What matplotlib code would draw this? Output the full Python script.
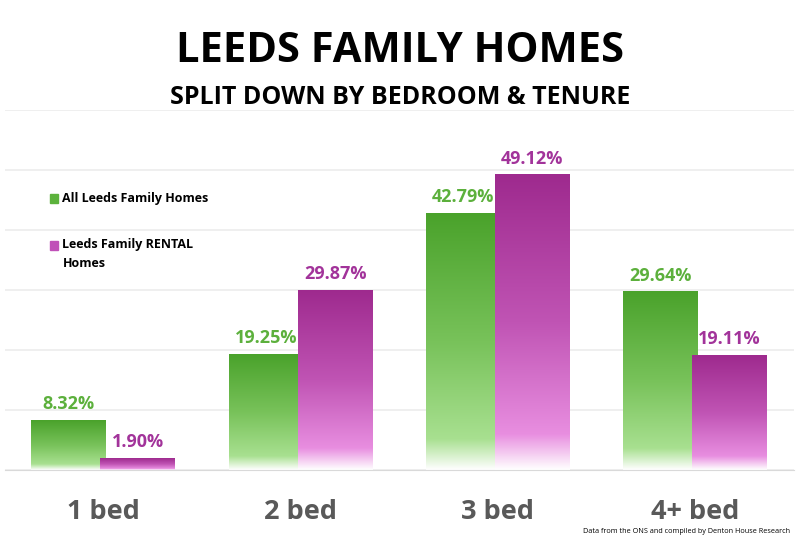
import numpy as np
import matplotlib.pyplot as plt
from matplotlib.colors import LinearSegmentedColormap

# Chart data.
categories = ['1 bed', '2 bed', '3 bed', '4+ bed']
all_homes = [8.32, 19.25, 42.79, 29.64]
rental_homes = [1.90, 29.87, 49.12, 19.11]
series_names = ['All Leeds Family Homes', 'Leeds Family RENTAL\nHomes']

green_dark = '#4aa22b'
pink_dark = '#9e2a8e'
green_cmap = LinearSegmentedColormap.from_list(
    'g', [(0, '#ffffff'), (0.12, '#a8e090'), (0.5, '#78c25a'), (1, green_dark)])
pink_cmap = LinearSegmentedColormap.from_list(
    'p', [(0, '#ffffff'), (0.12, '#e88ee0'), (0.5, '#c054b4'), (1, pink_dark)])

fig = plt.figure(figsize=(8, 5.46), dpi=100)
ax = fig.add_axes([0.006, 0.139, 0.986, 0.66])

x = np.arange(len(categories))
width = 0.38
offset = 0.175
grad = np.linspace(0, 1, 256).reshape(-1, 1)


def gradient_bars(xs, heights, cmap):
    for xc, h in zip(xs, heights):
        ax.imshow(grad, cmap=cmap, origin='lower', aspect='auto',
                  extent=[xc - width / 2, xc + width / 2, 0, h], zorder=2)


gradient_bars(x - offset, all_homes, green_cmap)
gradient_bars(x + offset, rental_homes, pink_cmap)

for xc, v in zip(x - offset, all_homes):
    ax.text(xc, v + 1.2, f'{v:.2f}%', ha='center', va='bottom',
            color='#5cb03c', fontsize=13, fontweight='bold', family='Open Sans')
for xc, v in zip(x + offset, rental_homes):
    ax.text(xc, v + 1.2, f'{v:.2f}%', ha='center', va='bottom',
            color='#a2339a', fontsize=13, fontweight='bold', family='Open Sans')

ax.set_xlim(-0.5, len(categories) - 0.5)
ax.set_ylim(0, 60)
ax.set_yticks(np.arange(0, 61, 10))
ax.yaxis.grid(True, color='#ececec', linewidth=1.2, zorder=0)
ax.set_axisbelow(True)
ax.tick_params(left=False, labelleft=False, bottom=False)
ax.set_xticks(x)
ax.set_xticklabels(categories, fontsize=19.5, fontweight='bold', color='#595959',
                   family='Open Sans')
ax.tick_params(axis='x', pad=17)
for s in ['top', 'right', 'left']:
    ax.spines[s].set_visible(False)
ax.spines['bottom'].set_color('#d9d9d9')

# Legend drawn as text with small squares.
fig.patches.append(plt.Rectangle((0.062, 0.628), 0.011, 0.016, color='#5cb23c',
                                 transform=fig.transFigure, figure=fig))
fig.patches.append(plt.Rectangle((0.062, 0.543), 0.011, 0.016, color='#c050b8',
                                 transform=fig.transFigure, figure=fig))
fig.text(0.078, 0.637, series_names[0], fontsize=9, fontweight='bold',
         va='center', family='Open Sans')
fig.text(0.078, 0.552, series_names[1].split('\n')[0], fontsize=9,
         fontweight='bold', va='center', family='Open Sans')
fig.text(0.078, 0.517, series_names[1].split('\n')[1], fontsize=9,
         fontweight='bold', va='center', family='Open Sans')

fig.text(0.5, 0.905, 'LEEDS FAMILY HOMES', ha='center', va='center',
         fontsize=30, fontweight='bold', family='Open Sans')
fig.text(0.5, 0.822, 'SPLIT DOWN BY BEDROOM & TENURE', ha='center', va='center',
         fontsize=18, fontweight='bold', family='Open Sans')
fig.text(0.988, 0.027, 'Data from the ONS and compiled by Denton House Research',
         ha='right', va='center', fontsize=5.2, family='Open Sans')

fig.savefig('out.png', dpi=100)
